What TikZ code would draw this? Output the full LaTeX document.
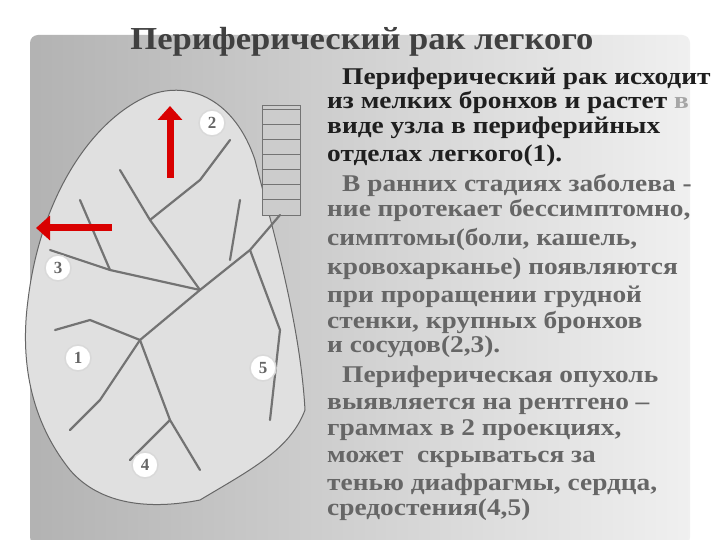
\documentclass[tikz,border=0pt]{standalone}
\usepackage{fontspec}
\setmainfont{Liberation Serif}
\usetikzlibrary{arrows.meta}
\begin{document}
\begin{tikzpicture}[x=1pt,y=-1pt,
  txt/.style={anchor=base west,inner sep=0,xscale=1.14,font=\fontsize{24}{26}\selectfont\bfseries},
  num/.style={circle,fill=white,draw=white!85!black,line width=1.5pt,minimum size=26pt,inner sep=0,text=black!60,font=\fontsize{17}{17}\selectfont\bfseries},
  br/.style={draw=black!55,line width=2.2pt,line cap=round},
  redarr/.style={draw=red!85!black,line width=7pt,-{Triangle[length=14pt,width=24pt]}}]
\useasboundingbox (0,0) rectangle (720,540);
\fill[white] (0,0) rectangle (720,540);
\shade[left color=black!30,right color=black!6,rounded corners=8pt] (30,35) rectangle (690,545);
\node[font=\fontsize{32}{32}\selectfont\bfseries,text=black!75,anchor=base,xscale=1.08] (title) at (362,50) {Периферический рак легкого};
% lung
\path[fill=black!12,draw=black!60,line width=1pt] (150,95) .. controls (190,80) and (235,100) .. (255,160)
  .. controls (270,220) and (300,320) .. (305,410) .. controls (290,450) and (250,470) .. (200,500)
  .. controls (150,510) and (100,505) .. (70,470) .. controls (30,420) and (20,360) .. (28,300)
  .. controls (40,200) and (90,120) .. (150,95) -- cycle;
\path[fill=black!20,draw=black!55] (262,105) rectangle (300,215);
\foreach \yy in {110,125,140,155,170,185,200} \draw[black!55,line width=1pt] (262,\yy) -- (300,\yy);
\draw[br] (280,215) -- (250,250) -- (200,290) -- (140,340) -- (100,400);
\draw[br] (250,250) -- (280,330) -- (270,420);
\draw[br] (200,290) -- (150,220) -- (120,170);
\draw[br] (200,290) -- (110,270) -- (50,250);
\draw[br] (140,340) -- (90,320) -- (55,330);
\draw[br] (140,340) -- (170,420) -- (200,470);
\draw[br] (150,220) -- (200,180) -- (230,140);
\draw[br] (230,260) -- (240,200);
\draw[br] (110,270) -- (80,200);
\draw[br] (100,400) -- (70,430);
\draw[br] (170,420) -- (130,460);
% arrows
\coordinate (a1) at (170,178); \coordinate (a2) at (170,106);
\draw[redarr] (a1) -- (a2);
\coordinate (b1) at (112,228); \coordinate (b2) at (36,228);
\draw[redarr] (b1) -- (b2);
\node[num] (n2) at (212,123) {2};
\node[num] (n3) at (58,268) {3};
\node[num] (n1) at (78,358) {1};
\node[num] (n5) at (263,368) {5};
\node[num] (n4) at (145,465) {4};
% text
\begin{scope}[text=black!88]
\node[txt] (l1) at (342,85) {Периферический рак исходит};
\node[txt] (l2) at (327,109) {из мелких бронхов и растет \textcolor{black!35}{в}};
\node[txt] (l3) at (327,134) {виде узла в периферийных};
\node[txt] (l4) at (327,162) {отделах легкого(1).};
\end{scope}
\begin{scope}[text=black!60]
\node[txt] (l5) at (342,192) {В ранних стадиях заболева -};
\node[txt] (l6) at (327,217) {ние протекает бессимптомно,};
\node[txt] (l7) at (327,245) {симптомы(боли, кашель,};
\node[txt] (l8) at (327,274) {кровохарканье) появляются};
\node[txt] (l9) at (327,302) {при проращении грудной};
\node[txt] (l10) at (327,328) {стенки, крупных бронхов};
\node[txt] (l11) at (327,352) {и сосудов(2,3).};
\node[txt] (l12) at (342,382) {Периферическая опухоль};
\node[txt] (l13) at (327,409) {выявляется на рентгено –};
\node[txt] (l14) at (327,435) {граммах в 2 проекциях,};
\node[txt] (l15) at (327,462) {может~ скрываться за};
\node[txt] (l16) at (327,490) {тенью диафрагмы, сердца,};
\node[txt] (l17) at (327,515) {средостения(4,5)};
\end{scope}
\end{tikzpicture}
\end{document}
